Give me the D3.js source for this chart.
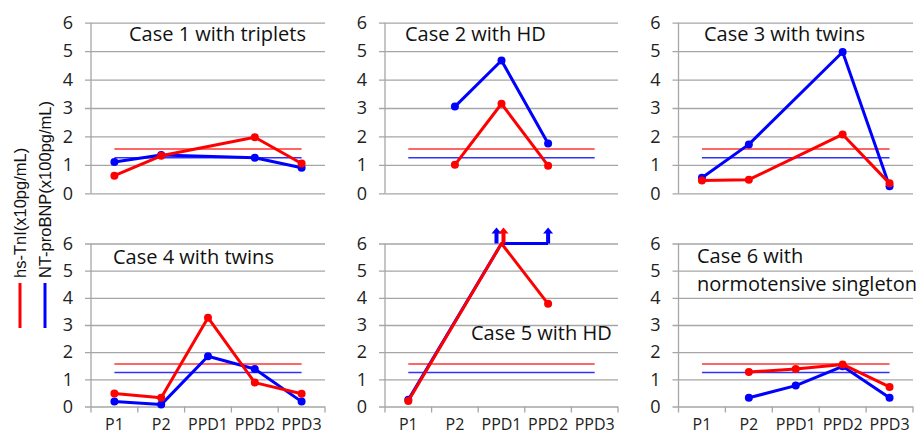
<!DOCTYPE html>
<html><head><meta charset="utf-8">
<script src="https://cdn.jsdelivr.net/npm/d3@7/dist/d3.min.js"></script>
<style>body{margin:0;background:#fff}svg{display:block}</style>
</head><body><svg id="c" width="923" height="436"></svg>
<script>
const categories = ["P1", "P2", "PPD1", "PPD2", "PPD3"];
const yTicks = [0, 1, 2, 3, 4, 5, 6];
const caseTitles = [
  ["Case 1 with triplets"],
  ["Case 2 with HD"],
  ["Case 3 with twins"],
  ["Case 4 with twins"],
  ["Case 5 with HD"],
  ["Case 6 with", "normotensive singleton"]
];
// hs-TnI (x10 pg/mL), per case, per category (null = not measured)
const hsTnI = [
  [0.62, 1.32, null, 1.97, 1.05],
  [null, 1.00, 3.15, 0.97, null],
  [0.45, 0.48, null, 2.07, 0.35],
  [0.48, 0.32, 3.27, 0.88, 0.47],
  [0.20, null, 6.00, 3.78, null],
  [null, 1.27, 1.38, 1.55, 0.72]
];
// NT-proBNP (x100 pg/mL)
const ntProBNP = [
  [1.10, 1.35, null, 1.25, 0.90],
  [null, 3.05, 4.67, 1.75, null],
  [0.55, 1.72, null, 4.97, 0.25],
  [0.18, 0.07, 1.85, 1.38, 0.18],
  [0.25, null, 6.00, 6.00, null],
  [null, 0.32, 0.77, 1.48, 0.32]
];
// values above the axis maximum: [case index, category]
const tnIOverflow = [[4, "PPD1"]];
const bnpOverflow = [[4, "PPD1"], [4, "PPD2"]];
// cut-off reference levels
const tnICutoff = 1.56;
const bnpCutoff = 1.25;
const legendLabels = ["hs-TnI(x10pg/mL)", "NT-proBNP(x100pg/mL)"];

const RED = "#ff0000", BLUE = "#0000ff", GRID = "#a6a6a6";
const svg = d3.select("#c");
const font = "'Open Sans', sans-serif";

const cols = [[91, 325], [385, 618], [678.5, 913]];
const rows = [[193.3, 22.7], [406.5, 243.5]];
const titlePos = [
  [129, 41], [405, 41], [704, 41],
  [113, 264], [471, 340], [697, 263]
];

caseTitles.forEach((title, i) => {
  const col = cols[i % 3], row = rows[Math.floor(i / 3)];
  const bottom = i >= 3;
  const x = d3.scaleBand().domain(categories).range(col);
  const y = d3.scaleLinear().domain([0, 6]).range(row);
  const g = svg.append("g");

  // gridlines + y axis labels
  const ya = d3.axisLeft(y).tickValues(yTicks).tickFormat(d3.format("d"))
    .tickSize(-(col[1] - col[0]) - 6).tickPadding(12);
  const yg = g.append("g").attr("transform", `translate(${col[0] - 6},0)`).call(ya);
  yg.select(".domain").remove();
  yg.selectAll(".tick line").attr("stroke", GRID).attr("stroke-width", 1.3).attr("x1", 0).attr("x2", col[1] - col[0] + 6);
  yg.selectAll(".tick text").attr("font-family", font).attr("font-size", 18).attr("fill", "#222");
  // vertical axis line
  g.append("line").attr("x1", col[0]).attr("x2", col[0]).attr("y1", row[1]).attr("y2", row[0])
    .attr("stroke", GRID).attr("stroke-width", 1.3);

  if (bottom) {
    const xa = d3.axisBottom(x).tickSize(0).tickPadding(0);
    const xg = g.append("g").attr("transform", `translate(0,${row[0]})`).call(xa);
    xg.select(".domain").remove();
    xg.selectAll(".tick text").attr("font-family", font).attr("font-size", 16).attr("fill", "#222")
      .attr("y", 18).attr("dy", "0.32em");
    const bounds = categories.map(c => x(c)).concat([col[1]]);
    g.selectAll(".xt").data(bounds).enter().append("line")
      .attr("x1", d => d).attr("x2", d => d).attr("y1", row[0]).attr("y2", row[0] + 6)
      .attr("stroke", GRID).attr("stroke-width", 1.3);
  }

  const cx = c => x(c) + x.bandwidth() / 2;
  // reference lines
  [[tnICutoff, RED], [bnpCutoff, BLUE]].forEach(([v, c]) => {
    g.append("line").attr("x1", cx(categories[0])).attr("x2", cx(categories[4]))
      .attr("y1", y(v)).attr("y2", y(v)).attr("stroke", c).attr("stroke-width", 1.5).attr("opacity", 0.8);
  });

  const series = [[ntProBNP[i], BLUE, bnpOverflow], [hsTnI[i], RED, tnIOverflow]];
  series.forEach(([vals, color, over]) => {
    const pts = categories.map((c, k) => ({ c, v: vals[k] })).filter(d => d.v !== null);
    const line = d3.line().x(d => cx(d.c)).y(d => y(d.v));
    g.append("path").attr("d", line(pts)).attr("fill", "none").attr("stroke", color)
      .attr("stroke-width", 3).attr("stroke-linejoin", "round");
    const overCats = over.filter(o => o[0] === i).map(o => o[1]);
    g.selectAll(null).data(pts.filter(d => !overCats.includes(d.c))).enter().append("circle")
      .attr("cx", d => cx(d.c)).attr("cy", d => y(d.v)).attr("r", 4).attr("fill", color);
    // overflow arrows
    overCats.forEach(c => {
      const dx = color === BLUE && c === "PPD1" ? -5 : (color === RED ? 2 : 0);
      const ax = cx(c) + dx, ay = y(6);
      g.append("line").attr("x1", ax).attr("x2", ax).attr("y1", ay).attr("y2", ay - 11)
        .attr("stroke", color).attr("stroke-width", 4);
      g.append("path").attr("d", `M${ax - 5},${ay - 10}L${ax + 5},${ay - 10}L${ax},${ay - 16}Z`).attr("fill", color);
    });
  });

  // title
  const tp = titlePos[i];
  title.forEach((t, k) => {
    g.append("text").attr("x", tp[0]).attr("y", tp[1] + k * 28).text(t)
      .attr("font-family", font).attr("font-size", 20).attr("fill", "#111");
  });
});

// legend
const legend = [[20, RED], [45, BLUE]];
legend.forEach(([lx, color], k) => {
  svg.append("text").attr("transform", `translate(${lx + 6},278) rotate(-90)`)
    .text(legendLabels[k]).attr("font-family", "'Liberation Sans', Arial, sans-serif")
    .attr("font-size", 16.5).attr("fill", "#111");
  svg.append("line").attr("x1", lx).attr("x2", lx).attr("y1", 283).attr("y2", 328)
    .attr("stroke", color).attr("stroke-width", 3);
});
</script></body></html>
